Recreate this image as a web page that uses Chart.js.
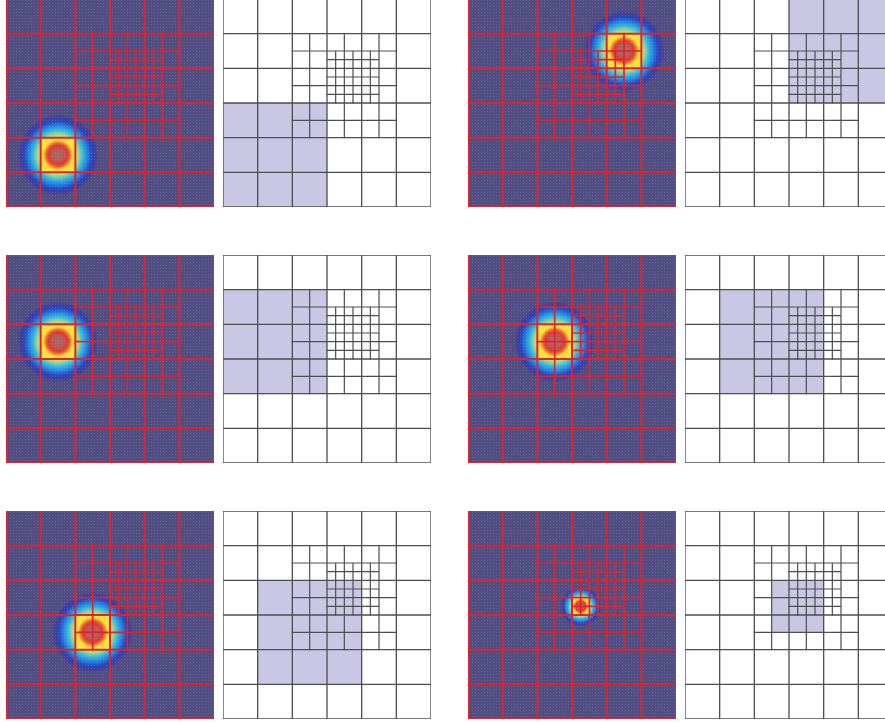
<!DOCTYPE html>
<html>
<head>
<meta charset="utf-8">
<script src="https://cdn.jsdelivr.net/npm/chart.js@4/dist/chart.umd.min.js"></script>
<style>
html, body { margin: 0; padding: 0; background: #fff; overflow: hidden; width: 885px; height: 722px; }
canvas { position: absolute; }
</style>
</head>
<body>
<script>
// Domain: a 6 x 6 block of coarse cells, rows counted from the top.
const coarseLines = [0, 1, 2, 3, 4, 5, 6];
// Refined patches: [x0, x1, y0, y1, cell size]
const level1Patch = [2, 5, 1, 4, 0.5];
const level2Patch = [3, 4.5, 1.5, 3, 0.25];

// Pulse centre and size for each of the six snapshots
const blobX = [1.5, 4.5, 1.5, 2.5, 2.5, 3.25];
const blobY = [4.5, 1.5, 2.5, 2.5, 3.5, 2.75];
const blobScale = [1, 1, 1, 1, 1, 0.5];

// Highlighted neighbourhood of the cell holding the pulse
const shadeX0 = [0, 3, 0, 1, 1, 2.5];
const shadeX1 = [3, 6, 3, 4, 4, 4];
const shadeY0 = [3, 0, 1, 1, 2, 2];
const shadeY1 = [6, 3, 4, 4, 5, 3.5];

// Panel placement (field panel; mesh panel sits to its right)
const colLeft = [5, 467];
const meshOffset = 217;
const rowTop = [-2, 254, 510];
const SIZE = 210;

// ---- mesh segments -------------------------------------------------------
function onCoarser(v, step) {
  const k = v / (step * 2);
  return Math.abs(k - Math.round(k)) < 1e-9;
}
function coarseSegments() {
  const pts = [];
  coarseLines.forEach(v => {
    pts.push({x: v, y: 0}, {x: v, y: 6}, {x: v, y: null});
    pts.push({x: 0, y: v}, {x: 6, y: v}, {x: 6, y: null});
  });
  return pts;
}
function patchSegments(p) {
  const [x0, x1, y0, y1, s] = p;
  const pts = [];
  for (let x = x0 + s; x < x1 - 1e-9; x += s) {
    if (onCoarser(x, s)) continue;
    pts.push({x: x, y: y0}, {x: x, y: y1}, {x: x, y: null});
  }
  for (let y = y0 + s; y < y1 - 1e-9; y += s) {
    if (onCoarser(y, s)) continue;
    pts.push({x: x0, y: y}, {x: x1, y: y}, {x: x1, y: null});
  }
  return pts;
}
function fineSegments() {
  return patchSegments(level1Patch).concat(patchSegments(level2Patch));
}

// ---- colour map for the pulse field ---------------------------------------
const cmap = [
  [0.00, 80, 78, 131],
  [0.07, 66, 62, 154],
  [0.15, 40, 70, 192],
  [0.26, 38, 130, 222],
  [0.36, 48, 182, 226],
  [0.46, 150, 212, 150],
  [0.55, 238, 226, 78],
  [0.60, 250, 226, 60],
  [0.68, 246, 162, 46],
  [0.76, 236, 92, 46],
  [0.84, 224, 54, 52],
  [0.92, 186, 88, 82],
  [1.00, 165, 108, 102]
];
function colourAt(v) {
  if (v <= 0) return cmap[0].slice(1);
  for (let i = 1; i < cmap.length; i++) {
    if (v <= cmap[i][0]) {
      const a = cmap[i - 1], b = cmap[i];
      const t = (v - a[0]) / (b[0] - a[0]);
      return [a[1] + (b[1] - a[1]) * t, a[2] + (b[2] - a[2]) * t, a[3] + (b[3] - a[3]) * t];
    }
  }
  return cmap[cmap.length - 1].slice(1);
}
function lerp(r, r0, r1, v0, v1) { return v0 + (v1 - v0) * (r - r0) / (r1 - r0); }
function fieldValue(x, y, k) {
  const s = blobScale[k];
  const dx = (x - blobX[k]) / s, dy = (y - blobY[k]) / s;
  const r = Math.sqrt(dx * dx + dy * dy);
  if (Math.abs(dx) <= 0.5 && Math.abs(dy) <= 0.5) {
    if (r < 0.2) return lerp(r, 0, 0.2, 1, 0.92);
    if (r < 0.32) return lerp(r, 0.2, 0.32, 0.92, 0.78);
    if (r < 0.44) return lerp(r, 0.32, 0.44, 0.78, 0.6);
    return 0.6;
  }
  if (r < 0.5) return 0.55;
  return Math.max(0, 0.55 * (1 - (r - 0.5) / 0.66));
}

// ---- plugins --------------------------------------------------------------
function fieldPlugin(k) {
  return {
    id: 'field' + k,
    beforeDatasetsDraw(chart) {
      const {ctx, chartArea: a, scales: {x, y}} = chart;
      const w = Math.round(a.right - a.left), h = Math.round(a.bottom - a.top);
      const off = document.createElement('canvas');
      off.width = w; off.height = h;
      const octx = off.getContext('2d');
      const img = octx.createImageData(w, h);
      for (let py = 0; py < h; py++) {
        const vy = y.getValueForPixel(a.top + py + 0.5);
        for (let px = 0; px < w; px++) {
          const vx = x.getValueForPixel(a.left + px + 0.5);
          let c = colourAt(fieldValue(vx, vy, k));
          // fine sampling dots of the plotted field
          if (px % 3 === 1 && py % 3 === 1) {
            const m = ((Math.floor(px / 9) + Math.floor(py / 9)) % 2 === 0) ? 0.22 : 0.12;
            c = [c[0] + (185 - c[0]) * m, c[1] + (185 - c[1]) * m, c[2] + (220 - c[2]) * m];
          }
          const i = (py * w + px) * 4;
          img.data[i] = c[0]; img.data[i + 1] = c[1]; img.data[i + 2] = c[2]; img.data[i + 3] = 255;
        }
      }
      octx.putImageData(img, 0, 0);
      ctx.drawImage(off, a.left, a.top);
    }
  };
}
function shadePlugin(k) {
  return {
    id: 'shade' + k,
    beforeDatasetsDraw(chart) {
      const {ctx, scales: {x, y}} = chart;
      const l = x.getPixelForValue(shadeX0[k]), r = x.getPixelForValue(shadeX1[k]);
      const t = y.getPixelForValue(shadeY0[k]), b = y.getPixelForValue(shadeY1[k]);
      ctx.save();
      ctx.fillStyle = 'rgb(201,199,227)';
      ctx.fillRect(l, t, r - l, b - t);
      ctx.restore();
    }
  };
}

// ---- chart factory --------------------------------------------------------
function makeChart(left, top, plugin, lineColour, wCoarse, wFine) {
  const cv = document.createElement('canvas');
  cv.width = SIZE; cv.height = SIZE;
  cv.style.left = left + 'px'; cv.style.top = top + 'px';
  cv.style.width = SIZE + 'px'; cv.style.height = SIZE + 'px';
  document.body.appendChild(cv);
  const lineSet = (data, w) => ({
    data: data, showLine: true, spanGaps: false, pointRadius: 0,
    borderColor: lineColour, borderWidth: w, borderCapStyle: 'square',
    fill: false, tension: 0
  });
  return new Chart(cv, {
    type: 'scatter',
    data: { datasets: [lineSet(fineSegments(), wFine), lineSet(coarseSegments(), wCoarse)] },
    options: {
      responsive: false, animation: false, devicePixelRatio: 1, events: [],
      layout: { padding: 1 },
      scales: {
        x: { type: 'linear', min: 0, max: 6, display: false },
        y: { type: 'linear', min: 0, max: 6, reverse: true, display: false }
      },
      plugins: { legend: { display: false }, tooltip: { enabled: false } }
    },
    plugins: [plugin]
  });
}

for (let k = 0; k < 6; k++) {
  const col = k % 2, row = Math.floor(k / 2);
  const left = colLeft[col], top = rowTop[row];
  makeChart(left, top, fieldPlugin(k), 'rgb(222,36,46)', 2, 1.7);
  makeChart(left + meshOffset, top, shadePlugin(k), 'rgb(78,78,80)', 1.3, 1.2);
}
</script>
</body>
</html>
